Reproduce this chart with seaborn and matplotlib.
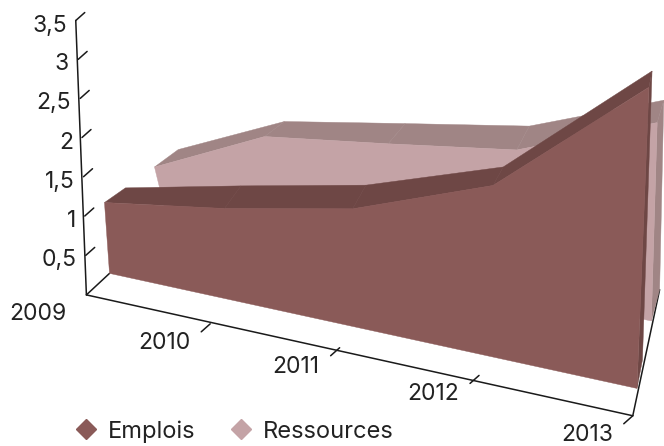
import numpy as np
import seaborn as sns
import matplotlib.pyplot as plt
from matplotlib.lines import Line2D
from matplotlib.patches import Polygon

years = ["2009", "2010", "2011", "2012", "2013"]
emplois = [1.0, 1.25, 1.5, 2.0, 3.1]
ressources = [1.0, 1.95, 1.88, 1.8, 2.25]
value_ticks = [0.5, 1, 1.5, 2, 2.5, 3, 3.5]
value_labels = ["0,5", "1", "1,5", "2", "2,5", "3", "3,5"]

# depth of each series in the 3D box
emplois_depth = (1.0, 2.0)
ressources_depth = (3.3, 4.3)

# camera calibration: box coords (year, depth, value) -> pixel
calib = [
    (0, 0, 0, 87, 293), (1, 0, 0, 212, 321), (2, 0, 0, 339, 348),
    (3, 0, 0, 478, 378), (4, 0, 0, 633, 412), (0, 0, 1, 85, 219),
    (0, 0, 2, 81, 138), (0, 0, 3, 78, 62), (0, 0, 3.5, 76, 18),
    (0, 1, 0, 107, 277), (4, 1, 0, 637, 391), (4, 2, 0, 644, 360),
    (4, 3.3, 0, 650, 324), (4, 4.3, 0, 660, 287),
    (0, 1, 1, 104, 200), (0, 2, 1, 127, 186), (0, 3.3, 1, 157, 166), (0, 4.3, 1, 177, 150),
    (2, 1, 1.5, 355, 207), (2, 2, 1.5, 363, 188),
    (3, 1, 2, 494, 186), (3, 2, 2, 501, 168),
    (4, 1, 3.1, 648, 88), (4, 2, 3.1, 654, 71),
    (1, 3.3, 1.95, 265, 138), (1, 4.3, 1.95, 283, 122),
    (3, 3.3, 1.8, 517, 143), (3, 4.3, 1.8, 532, 128),
    (4, 3.3, 2.25, 656, 120), (4, 4.3, 2.25, 663, 103),
]


def terms(x, d, v):
    return [1, x, d, v, x * x, x ** 3, x * d, x * v, d * v, x * d * v, x * x * v, x * x * d,
            d * d, v * v, x * x * d * v]


def fit_camera(points):
    A = np.array([terms(x, d, v) for x, d, v, _, _ in points], dtype=float)
    B = np.array([[px, py] for _, _, _, px, py in points], dtype=float)
    coef, *_ = np.linalg.lstsq(A, B, rcond=None)
    return coef


camera = fit_camera(calib)


def project(x, d, v):
    return tuple(np.array(terms(x, d, v), dtype=float) @ camera)


def draw_area(ax, values, depth, front_col, top_col, z):
    front, back = depth
    xs = range(len(values))
    last = len(values) - 1
    # top strip
    for i in range(last):
        ax.add_patch(Polygon([project(i, front, values[i]), project(i + 1, front, values[i + 1]),
                              project(i + 1, back, values[i + 1]), project(i, back, values[i])],
                             color=top_col, lw=0.3, zorder=z))
    # right side
    ax.add_patch(Polygon([project(last, front, 0), project(last, back, 0),
                          project(last, back, values[last]), project(last, front, values[last])],
                         color=top_col, lw=0.3, zorder=z))
    # front
    outline = [project(i, front, values[i]) for i in xs]
    outline += [project(last, front, 0), project(0, front, 0)]
    ax.add_patch(Polygon(outline, color=front_col, lw=0.3, zorder=z + 0.5))


sns.set_theme(style="white")
plt.rcParams['font.family'] = ['Inter', 'DejaVu Sans']
colors = sns.color_palette(["#8a5a58", "#6e4745", "#c4a3a6", "#a08585"])

fig = plt.figure(figsize=(6.64, 4.46), dpi=100)
ax = fig.add_axes([0, 0, 1, 1])
ax.set_xlim(0, 664)
ax.set_ylim(446, 0)
ax.axis("off")

line_kw = dict(color="#1a1a1a", lw=1.1, zorder=1, solid_capstyle="round")
text_col = "#222222"

# box lines
o = project(0, 0, 0)
top = project(0, 0, 3.5)
end = project(4, 0, 0)
ax.plot([o[0], top[0]], [o[1], top[1]], **line_kw)
ax.plot([o[0], end[0]], [o[1], end[1]], **line_kw)
a = project(0, 1, 0)
ax.plot([o[0], a[0]], [o[1], a[1]], **line_kw)
b = project(4, 4.3, 0)
ax.plot([end[0], b[0]], [end[1], b[1]], **line_kw)

for v, lab in zip(value_ticks, value_labels):
    px, py = project(0, 0, v)
    ax.plot([px, px + 9], [py, py - 8], **line_kw)
    ax.text(px - 9, py + 5, lab, ha="right", va="center", fontsize=16.5, color=text_col)

for i, lab in enumerate(years):
    px, py = project(i, 0, 0)
    if i > 0:
        ax.plot([px, px - 9], [py, py + 8], **line_kw)
    ax.text(px - 20, py + 19, lab, ha="right", va="center", fontsize=16.5, color=text_col)

draw_area(ax, ressources, ressources_depth, colors[2], colors[3], 2)
draw_area(ax, emplois, emplois_depth, colors[0], colors[1], 3)

handles = [Line2D([], [], marker="D", ls="", ms=10.5, color=colors[0]),
           Line2D([], [], marker="D", ls="", ms=10.5, color=colors[2])]
ax.legend(handles, ["Emplois", "Ressources"], loc="center", bbox_to_anchor=(228 / 664, 1 - 431.5 / 446),
          ncol=2, frameon=False, fontsize=17, labelcolor=text_col, handletextpad=-0.1,
          columnspacing=0.95, borderpad=0, borderaxespad=0)

fig.savefig("out.png", dpi=100)
